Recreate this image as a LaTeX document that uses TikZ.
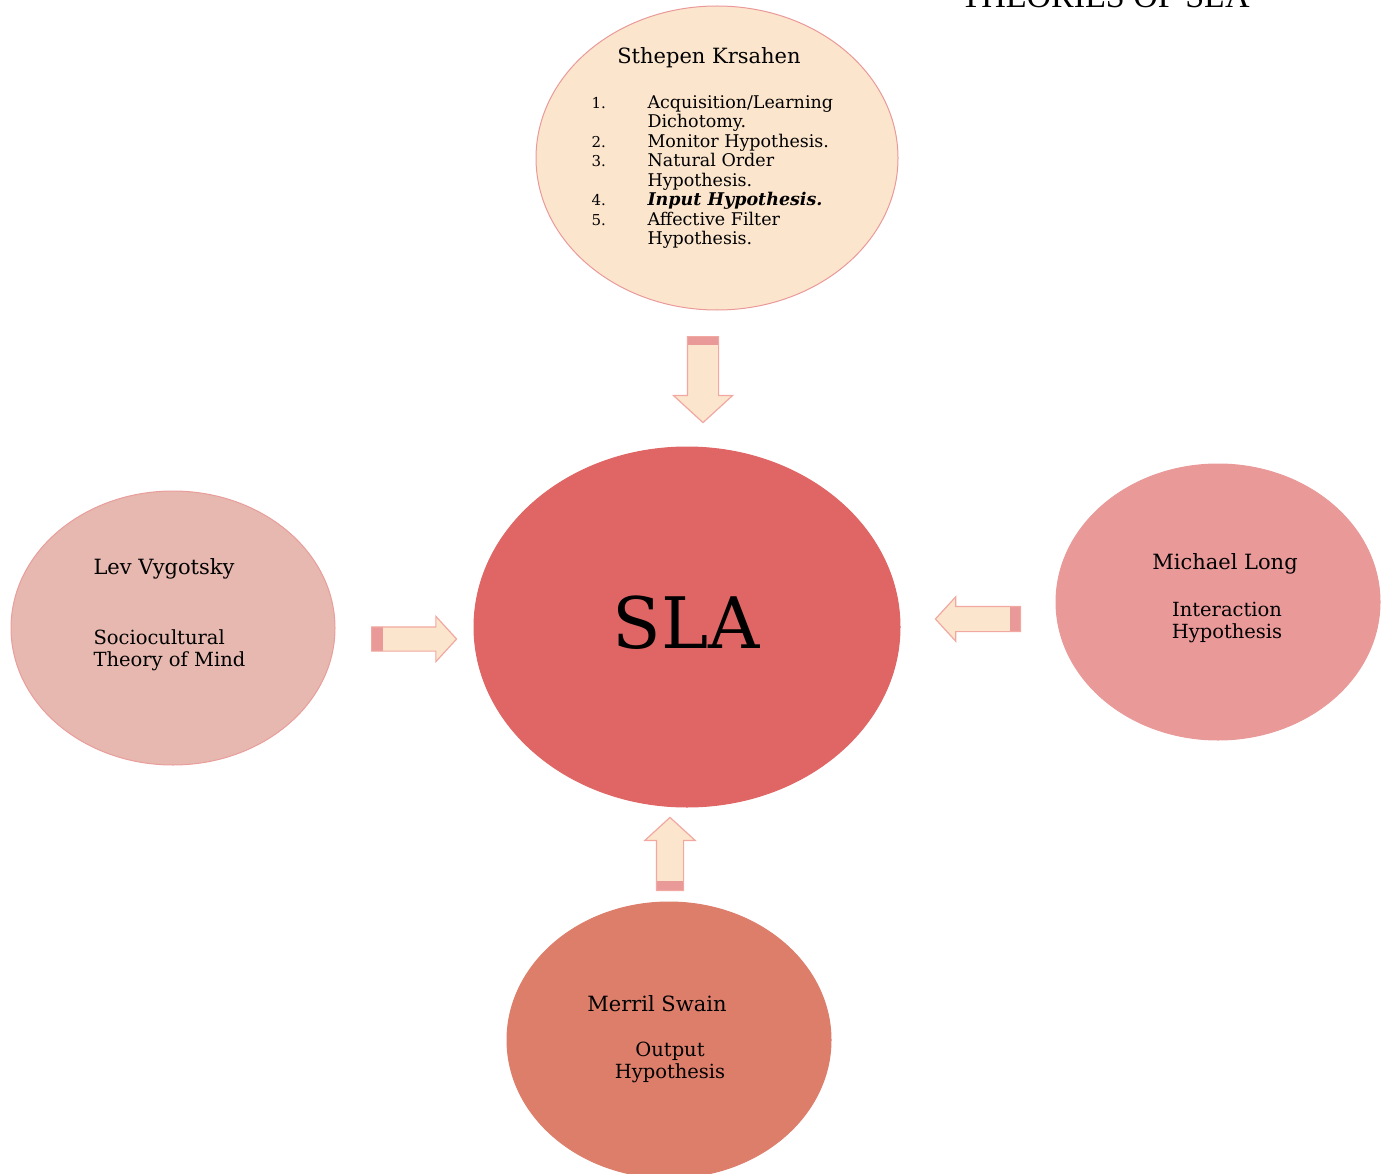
\documentclass[tikz,border=0pt]{standalone}
\usepackage{fontspec}
\setmainfont{DejaVu Serif}
\newfontfamily\titlefont{Liberation Serif}
\usetikzlibrary{shapes.geometric,shapes.arrows}

\definecolor{peach}{HTML}{FCE5CD}
\definecolor{slared}{HTML}{E06666}
\definecolor{rosepink}{HTML}{EA9999}
\definecolor{berrylight}{HTML}{E6B8AF}
\definecolor{berry}{HTML}{DD7E6B}
\definecolor{arrowline}{HTML}{F0A8A0}

\tikzset{
  bubble/.style={ellipse, inner sep=0pt, line width=1pt},
  blockarrow/.style={single arrow, draw=arrowline, fill=peach, line width=1.2pt,
    single arrow tip angle=95, single arrow head indent=0pt},
  tailband/.style n args={3}{path picture={\fill[rosepink] (path picture bounding box.#1) rectangle ([#3]path picture bounding box.#2);}},
  namefont/.style={font=\fontsize{21}{24}\selectfont},
  bodyfont/.style={font=\fontsize{19.5}{22}\selectfont},
}
\newcommand{\itemno}[1]{\makebox[56pt][l]{\fontsize{15}{19.5}\selectfont #1}}

\begin{document}
\begin{tikzpicture}[x=1pt, y=-1pt]
	%%%%% START %%%%%
	\useasboundingbox (0,0) rectangle (1383,1174);
	
	\node[font=\titlefont\fontsize{34}{40}\selectfont, anchor=base west] (title) at (957,8) {THEORIES OF SLA};
	
	% the four theorists and SLA
	\node[bubble, draw=rosepink, fill=peach, minimum width=362pt, minimum height=304pt] (krashen) at (717,158) {};
	\node[bubble, draw=slared, fill=slared, minimum width=426pt, minimum height=360pt] (sla) at (687,627) {};
	\node[bubble, draw=rosepink!85!berrylight, fill=berrylight, minimum width=324pt, minimum height=274pt] (vygotsky) at (173,628) {};
	\node[bubble, draw=rosepink, fill=rosepink, minimum width=324pt, minimum height=276pt] (long) at (1218,602) {};
	\node[bubble, draw=berry, fill=berry, minimum width=324pt, minimum height=276pt] (swain) at (669,1040) {};
	
	\node[font=\fontsize{71}{80}\selectfont] (slatext) at (686,623) {SLA};
	
	\node[namefont] (krashenname) at (709,58) {Sthepen Krsahen};
	\node[font=\fontsize{17.5}{19.5}\selectfont, align=left, anchor=west] (krashenlist) at (588,172) {%
		\itemno{1.}Acquisition/Learning\\
		\itemno{}Dichotomy.\\
		\itemno{2.}Monitor Hypothesis.\\
		\itemno{3.}Natural Order\\
		\itemno{}Hypothesis.\\
		\itemno{4.}\textbf{\textit{Input Hypothesis.}}\\
		\itemno{5.}Affective Filter\\
		\itemno{}Hypothesis.};
	
	\node[namefont, anchor=west] (vygotskyname) at (90,569) {Lev Vygotsky};
	\node[bodyfont, align=left, anchor=west] (vygotskytheory) at (90,650) {Sociocultural\\Theory of Mind};
	
	\node[namefont] (longname) at (1225,564) {Michael Long};
	\node[bodyfont, align=center] (longtheory) at (1227,622) {Interaction\\Hypothesis};
	
	\node[namefont] (swainname) at (657,1004) {Merril Swain};
	\node[bodyfont, align=center] (swaintheory) at (670,1062) {Output\\Hypothesis};
	
	% block arrows into SLA
	\node[blockarrow, shape border rotate=270, anchor=tail, inner sep=15pt, minimum height=86pt, single arrow head extend=14pt,
		tailband={north west}{north east}{yshift=-8pt}] (fromkrashen) at (703,336) {};
	\node[blockarrow, anchor=tail, inner sep=11.5pt, minimum height=85pt, single arrow head extend=10.5pt,
		tailband={north west}{south west}{xshift=11pt}] (fromvygotsky) at (371,639) {};
	\node[blockarrow, shape border rotate=180, anchor=tail, inner sep=12pt, minimum height=85pt, single arrow head extend=9.5pt,
		tailband={north east}{south east}{xshift=-10pt}] (fromlong) at (1021,619) {};
	\node[blockarrow, shape border rotate=90, anchor=tail, inner sep=13pt, minimum height=73pt, single arrow head extend=11.5pt,
		tailband={south west}{south east}{yshift=9pt}] (fromswain) at (670,891) {};
	
	%%%%% END %%%%%
\end{tikzpicture}
\end{document}
